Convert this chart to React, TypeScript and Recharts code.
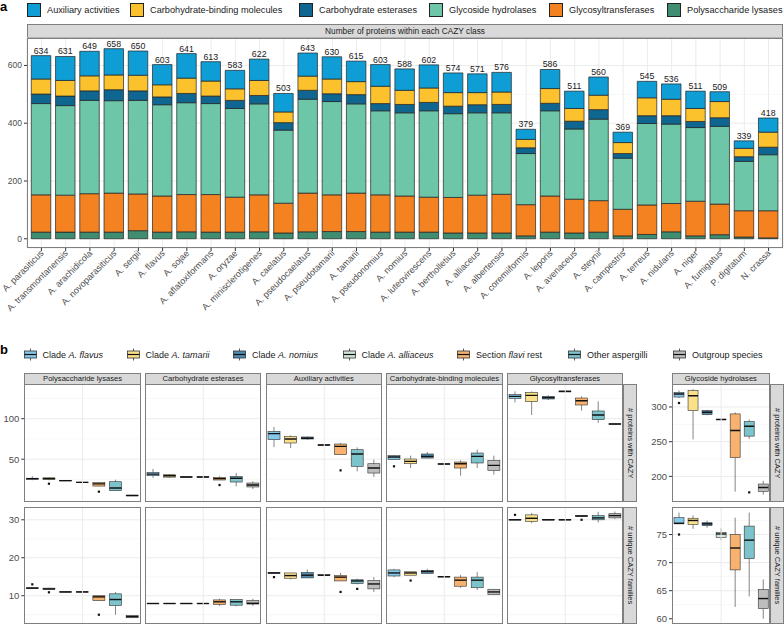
import React from 'react';
import { BarChart, Bar, XAxis, YAxis, CartesianGrid, LabelList, ReferenceLine } from 'recharts';

const FONT = '"Liberation Sans", Arial, Helvetica, sans-serif';
const INK = '#1a1a1a';
const AXIS_TEXT = '#4d4d4d';
const BORDER = '#7f7f7f';
const STRIP = '#d9d9d9';
const GRID = '#ebebeb';

// ---- panel a: number of proteins per CAZY class, per genome
const species = [
  'A. parasiticus', 'A. transmontanensis', 'A. arachidicola', 'A. novoparasiticus', 'A. sergii',
  'A. flavus', 'A. sojae', 'A. aflatoxiformans', 'A. oryzae', 'A. minisclerotigenes',
  'A. caelatus', 'A. pseudocaelatus', 'A. pseudotamarii', 'A. tamarii', 'A. pseudonomius',
  'A. nomius', 'A. luteovirescens', 'A. bertholletius', 'A. alliaceus', 'A. albertensis',
  'A. coremiiformis', 'A. leporis', 'A. avenaceus', 'A. steynii', 'A. campestris',
  'A. terreus', 'A. nidulans', 'A. niger', 'A. fumigatus', 'P. digitatum', 'N. crassa',
];
const totals = [634, 631, 649, 658, 650, 603, 641, 613, 583, 622, 503, 643, 630, 615, 603, 588, 602, 574, 571, 576, 379, 586, 511, 560, 369, 545, 536, 511, 509, 339, 418];
const polysaccharideLyases = [23, 23, 23, 23, 28, 23, 24, 23, 23, 24, 20, 24, 25, 25, 23, 23, 23, 20, 20, 20, 10, 23, 20, 23, 10, 15, 24, 10, 14, 6, 3];
const glycosyltransferases = [129, 128, 133, 135, 127, 125, 129, 130, 121, 128, 103, 134, 127, 133, 129, 125, 121, 123, 131, 134, 108, 125, 117, 109, 92, 102, 98, 120, 106, 91, 94];
const glycosideHydrolases = [316, 310, 323, 320, 324, 316, 318, 315, 307, 315, 253, 325, 323, 309, 291, 288, 299, 290, 285, 282, 177, 295, 243, 282, 177, 282, 275, 255, 269, 171, 194];
const carbohydrateEsterases = [33, 33, 33, 38, 33, 27, 32, 26, 28, 29, 26, 31, 27, 32, 25, 29, 29, 26, 28, 29, 20, 26, 27, 33, 16, 27, 29, 21, 30, 16, 26];
const carbohydrateBinding = [52, 54, 52, 51, 54, 42, 53, 52, 40, 52, 37, 49, 51, 45, 60, 49, 50, 47, 42, 43, 29, 51, 44, 50, 38, 62, 57, 45, 56, 29, 52];
const auxiliaryActivities = [81, 83, 85, 91, 84, 70, 85, 67, 64, 74, 64, 80, 77, 71, 75, 74, 80, 68, 65, 68, 35, 66, 60, 63, 36, 57, 53, 60, 34, 26, 49];

// legend order (top of stack first)
const classKeys = ['aa', 'cbm', 'ce', 'gh', 'gt', 'pl'];
const classLabels: Record<string, string> = {
  aa: 'Auxiliary activities',
  cbm: 'Carbohydrate-binding molecules',
  ce: 'Carbohydrate esterases',
  gh: 'Glycoside hydrolases',
  gt: 'Glycosyltransferases',
  pl: 'Polysaccharide lysases',
};
const classColors: Record<string, string> = {
  aa: '#0e9ed5', cbm: '#fcc22d', ce: '#0f6690', gh: '#6dc6a7', gt: '#f58220', pl: '#3f8e72',
};

const cazyRows = species.map((name, i) => ({
  name,
  total: totals[i],
  pl: polysaccharideLyases[i],
  gt: glycosyltransferases[i],
  gh: glycosideHydrolases[i],
  ce: carbohydrateEsterases[i],
  cbm: carbohydrateBinding[i],
  aa: auxiliaryActivities[i],
}));

// ---- panel b: per clade distributions, [low whisker, q1, median, q3, high whisker]
type BoxStat = [number, number, number, number, number];

const groups = ['flavus', 'tamarii', 'nomius', 'alliaceus', 'flaviRest', 'other', 'outgroup'];
const groupColors = ['#86c8e8', '#fbe08a', '#4f8cae', '#cfe6d8', '#f6b26e', '#7cc3cb', '#bdbdbd'];

const plProteins: BoxStat[] = [[24, 25, 26, 26.5, 29], [24, 25, 26, 27, 27.5], [23, 23.2, 23.5, 23.8, 24], [21, 21.2, 21.4, 21.6, 22], [16.4, 16.8, 19.5, 21, 21.4], [11, 11.1, 14.4, 22.2, 24.7], [4.6, 4.8, 5.2, 5.5, 5.7]];
const plProteinsOut = [[], [19.7], [], [], [9.9], [], []];
const ceProteins: BoxStat[] = [[27, 29.6, 31.6, 33.7, 37.9], [27, 27.8, 29.6, 30.8, 31.5], [27.5, 27.7, 28, 28.3, 28.5], [27.5, 27.7, 28, 28.3, 28.5], [24.3, 24.3, 26, 27.5, 29], [16.4, 21.8, 26.5, 28.8, 32.9], [13.2, 15.7, 18.1, 20.6, 22.6]];
const ceProteinsOut = [[], [], [], [], [18.1], [], []];
const aaProteins: BoxStat[] = [[65, 74.1, 81.5, 84.3, 89.7], [63.8, 70, 74.9, 78.2, 79.4], [74, 74.9, 75.9, 77.4, 78], [67, 67.2, 67.5, 67.8, 68], [55.6, 55.6, 65.8, 68.7, 70], [35, 41.2, 56.4, 61.7, 64.6], [28, 32.9, 39.1, 44.4, 49.4]];
const aaProteinsOut = [[], [], [], [], [36.2], [], []];
const cbmProteins: BoxStat[] = [[49, 49.4, 52.7, 54.3, 55], [39.1, 44.4, 47.3, 50.2, 54.3], [51, 51.4, 53.5, 56.4, 58.9], [43.7, 43.8, 44, 44.3, 44.5], [29.6, 39.1, 44.4, 46.5, 48.7], [39.1, 45.3, 53.5, 57.6, 61.7], [30.9, 36.2, 42.3, 48.5, 54.3]];
const cbmProteinsOut = [[41.2], [], [], [], [], [], []];
const gtProteins: BoxStat[] = [[120, 125, 127.5, 129.6, 133.7], [104.6, 121, 128.8, 132.5, 133.7], [123, 124.3, 126, 127.5, 129], [132.5, 133, 133.7, 134.2, 134.5], [109.9, 116.9, 122.2, 125.5, 127.5], [94.7, 98.8, 104.5, 109.5, 121.4], [93, 93.2, 93.4, 93.6, 93.8]];
const gtProteinsOut = [[], [], [], [], [], [], []];
const ghProteins: BoxStat[] = [[312.9, 314.3, 318.6, 320.9, 323.6], [253.3, 295.1, 316.1, 323.7, 325.7], [288, 289, 292.3, 294.7, 296], [281.5, 281.7, 282, 282.3, 282.5], [178, 227, 266.1, 290, 292.3], [254, 258, 272.3, 279, 281.9], [173.7, 178.5, 184.1, 189, 193.7]];
const ghProteinsOut = [[305.7], [], [], [], [], [177], []];

const plFamilies: BoxStat[] = [[11.8, 11.9, 12, 12.1, 12.2], [11.6, 11.7, 11.8, 12, 12.1], [10.9, 10.95, 11, 11.05, 11.1], [10.9, 10.95, 11, 11.05, 11.1], [8.7, 8.7, 9.7, 10, 10], [5, 7.4, 9, 10.5, 11], [4.1, 4.2, 4.5, 4.8, 4.9]];
const plFamiliesOut = [[13], [10.9], [], [], [5], [], []];
const ceFamilies: BoxStat[] = [[7.85, 7.9, 7.95, 8, 8.05], [7.85, 7.9, 7.95, 8, 8.05], [7.85, 7.9, 7.95, 8, 8.05], [7.85, 7.9, 7.95, 8, 8.05], [7.3, 7.7, 8.4, 8.9, 9.2], [7.2, 7.5, 8.4, 9, 9], [7.3, 7.8, 8, 8.8, 9.2]];
const ceFamiliesOut = [[], [], [], [], [], [], []];
const aaFamilies: BoxStat[] = [[15.8, 15.9, 16, 16.1, 16.2], [14.3, 14.6, 15.3, 16, 16], [14.7, 14.7, 15.4, 16.1, 16.9], [15.3, 15.3, 15.4, 15.6, 15.7], [13.9, 13.9, 14.9, 15.3, 16], [13, 13.2, 13.9, 14.2, 14.5], [11, 11.8, 13.1, 14, 14.9]];
const aaFamiliesOut = [[14.9], [], [], [], [11], [11.8], []];
const cbmFamilies: BoxStat[] = [[14.9, 15.2, 16, 16.8, 17.1], [15.4, 15.4, 16, 16.3, 16.3], [15.9, 15.9, 16.4, 16.6, 17.1], [14.9, 14.95, 15, 15.05, 15.1], [12.1, 12.5, 14.1, 14.9, 15.5], [11.5, 12.1, 14.1, 14.9, 16.2], [10.3, 10.3, 11, 11.7, 11.7]];
const cbmFamiliesOut = [[], [14], [], [], [], [], []];
const gtFamilies: BoxStat[] = [[29.9, 29.95, 30, 30.05, 30.1], [29.1, 29.6, 30.4, 31.3, 31.8], [29.9, 29.95, 30, 30.05, 30.1], [29.9, 29.95, 30, 30.05, 30.1], [30.9, 30.9, 31, 31.1, 31.1], [29.3, 30, 30.5, 31.1, 32.1], [30.2, 30.5, 31.1, 31.6, 32.2]];
const gtFamiliesOut = [[31.3], [], [], [], [30], [], []];
const ghFamilies: BoxStat[] = [[76.9, 76.9, 77, 78, 78.9], [76, 76.8, 77.5, 77.9, 78.4], [76.2, 76.6, 76.9, 77.1, 77.5], [74, 74.5, 75.1, 75.4, 76.1], [62.1, 68.7, 72.6, 75, 78], [64, 70.7, 74, 76.5, 78.9], [60, 61.8, 63.6, 65.2, 67]];
const ghFamiliesOut = [[75], [], [], [], [], [], []];

const smallClassTitles = ['Polysaccharide lysases', 'Carbohydrate esterases', 'Auxiliary activities', 'Carbohydrate-binding molecules', 'Glycosyltransferases'];
const proteinTicks = [0, 50, 100];
const proteinMinor = [25, 75, 125];
const familyTicks = [10, 20, 30];
const familyMinor = [5, 15, 25];
const ghProteinTicks = [200, 250, 300];
const ghProteinMinor = [175, 225, 275, 325];
const ghFamilyTicks = [60, 65, 70, 75];
const ghFamilyMinor = [62.5, 67.5, 72.5, 77.5];

function boxRows(stats: BoxStat[], outliers: number[][]) {
  return groups.map((group, i) => {
    const [lo, q1, med, q3, hi] = stats[i];
    const out = outliers[i];
    return {
      group, color: groupColors[i], lo, q1, med, q3, hi, out,
      range: [Math.min(lo, ...out), Math.max(hi, ...out)],
    };
  });
}

// draws one boxplot inside the pixel span recharts gives the [min, max] range bar
const BoxShape = (props: any) => {
  const { x, y, width, height, payload } = props;
  if (x == null || !payload) return null;
  const top = Math.min(y, y + height);
  const bottom = Math.max(y, y + height);
  const [vMin, vMax] = payload.range;
  const py = (v: number) => top + ((bottom - top) * (vMax - v)) / (vMax - vMin);
  const cx = x + width / 2;
  return (
    <g>
      <line x1={cx} x2={cx} y1={py(payload.hi)} y2={py(payload.q3)} stroke="#333" strokeWidth={0.6} />
      <line x1={cx} x2={cx} y1={py(payload.q1)} y2={py(payload.lo)} stroke="#333" strokeWidth={0.6} />
      <rect x={x} y={py(payload.q3)} width={width} height={Math.max(py(payload.q1) - py(payload.q3), 0.3)}
        fill={payload.color} stroke="#333" strokeWidth={0.6} />
      <line x1={x} x2={x + width} y1={py(payload.med)} y2={py(payload.med)} stroke="#111" strokeWidth={1.4} />
      {payload.out.map((v: number, k: number) => (
        <rect key={k} x={cx - 1.1} y={py(v) - 1.1} width={2.2} height={2.2} fill="#111" />
      ))}
    </g>
  );
};

const BoxFacet = ({ left, top, width, height, rows, domain, ticks, minor, barSize, axisWidth = 0 }: any) => (
  <div style={{ position: 'absolute', left: left - axisWidth, top, width: width + axisWidth, height }}>
    <BarChart width={width + axisWidth} height={height} data={rows} barSize={barSize}
      margin={{ top: 0, right: 0, bottom: 0, left: 0 }}>
      <CartesianGrid vertical={false} horizontalValues={minor} stroke="#f1f1f1" strokeWidth={0.6} />
      <CartesianGrid vertical={false} horizontalValues={ticks} stroke={GRID} strokeWidth={1} />
      <ReferenceLine x="alliaceus" stroke={GRID} strokeWidth={1} />
      <XAxis dataKey="group" hide />
      <YAxis hide={!axisWidth} width={axisWidth} type="number" domain={domain} ticks={ticks}
        allowDataOverflow axisLine={false} tickSize={3} tickMargin={2}
        tickLine={{ stroke: '#333' }} tick={{ fontSize: 9.5, fill: AXIS_TEXT, fontFamily: FONT }} />
      <Bar dataKey="range" shape={<BoxShape />} isAnimationActive={false} />
    </BarChart>
    <div style={{ position: 'absolute', left: axisWidth, top: 0, width, height, border: `1px solid ${BORDER}`, boxSizing: 'border-box' }} />
  </div>
);

const SpeciesTick = ({ x, y, payload }: any) => (
  <text x={x} y={y} dy={4} textAnchor="end" transform={`rotate(-45, ${x}, ${y})`}
    fontSize={9} fill={AXIS_TEXT} fontFamily={FONT}>
    {payload.value}
  </text>
);

const stripStyle = (left: number, top: number, width: number, height: number, fontSize: number): React.CSSProperties => ({
  position: 'absolute', left, top, width, height, background: STRIP, border: `1px solid ${BORDER}`,
  boxSizing: 'border-box', fontSize, color: INK, display: 'flex', alignItems: 'center', justifyContent: 'center',
  whiteSpace: 'nowrap', overflow: 'hidden',
});

const sideStrip = (left: number, top: number, height: number, text: string) => (
  <div style={{ ...stripStyle(left, top, 14, height, 7.5), writingMode: 'vertical-rl' }}>{text}</div>
);

const legendA = [27, 130, 299, 429, 549, 667];
const legendB = [23.5, 126.5, 233, 342.5, 457, 568, 673];
const legendBLabels = [
  <>Clade <i>A. flavus</i></>, <>Clade <i>A. tamarii</i></>, <>Clade <i>A. nomius</i></>,
  <>Clade <i>A. alliaceus</i></>, <>Section <i>flavi</i> rest</>, <>Other aspergilli</>, <>Outgroup species</>,
];

export default function App() {
  const facetLefts = [24.3, 144.9, 265.5, 386.1, 506.7];
  const facetW = 116.5;
  const row1Top = 384.3, row2Top = 506.5, rowH = 117.4;
  const proteinSets = [
    boxRows(plProteins, plProteinsOut), boxRows(ceProteins, ceProteinsOut), boxRows(aaProteins, aaProteinsOut),
    boxRows(cbmProteins, cbmProteinsOut), boxRows(gtProteins, gtProteinsOut),
  ];
  const familySets = [
    boxRows(plFamilies, plFamiliesOut), boxRows(ceFamilies, ceFamiliesOut), boxRows(aaFamilies, aaFamiliesOut),
    boxRows(cbmFamilies, cbmFamiliesOut), boxRows(gtFamilies, gtFamiliesOut),
  ];

  return (
    <div style={{ position: 'absolute', left: 0, top: 0, width: 784, height: 624, background: '#fff', fontFamily: FONT, overflow: 'hidden' }}>
      <div style={{ position: 'absolute', left: 0, top: 0, fontSize: 13, lineHeight: '13px', fontWeight: 'bold' }}>a</div>
      {classKeys.map((k, i) => (
        <div key={k} style={{ position: 'absolute', left: legendA[i], top: 3, height: 14, display: 'flex', alignItems: 'center', fontSize: 9.2, color: INK, whiteSpace: 'nowrap' }}>
          <span style={{ width: 14, height: 14, background: classColors[k], border: '1px solid #222', boxSizing: 'border-box', marginRight: 6 }} />
          <span>{classLabels[k]}</span>
        </div>
      ))}
      <div style={stripStyle(27, 24, 756, 14, 8.3)}>Number of proteins within each CAZY class</div>

      <div style={{ position: 'absolute', left: 0, top: 0 }}>
        <BarChart width={784} height={330} data={cazyRows} barSize={19.5}
          margin={{ top: 38, right: 1, left: 0, bottom: 0 }}>
          <CartesianGrid stroke={GRID} strokeWidth={1} />
          <CartesianGrid vertical={false} horizontalValues={[100, 300, 500]} stroke="#f1f1f1" strokeWidth={0.6} />
          <XAxis dataKey="name" interval={0} height={82} tick={<SpeciesTick />} tickSize={3} tickMargin={0}
            tickLine={{ stroke: '#333' }} axisLine={false} padding={{ left: 2.3, right: 2.3 }} />
          <YAxis width={27} type="number" domain={[-32, 695]} ticks={[0, 200, 400, 600]} allowDataOverflow
            axisLine={false} tickSize={3} tickMargin={2} tickLine={{ stroke: '#333' }}
            tick={{ fontSize: 8.5, fill: AXIS_TEXT, fontFamily: FONT }} />
          {[...classKeys].reverse().map((k) => (
            <Bar key={k} dataKey={k} stackId="cazy" fill={classColors[k]} stroke="#222" strokeWidth={0.7} isAnimationActive={false}>
              {k === 'aa' && <LabelList dataKey="total" position="top" offset={2} fontSize={8.8} fill={INK} fontFamily={FONT} />}
            </Bar>
          ))}
        </BarChart>
        <div style={{ position: 'absolute', left: 27, top: 38, width: 756, height: 210, border: `1px solid ${BORDER}`, boxSizing: 'border-box', pointerEvents: 'none' }} />
      </div>

      <div style={{ position: 'absolute', left: 0, top: 343, fontSize: 13, lineHeight: '13px', fontWeight: 'bold' }}>b</div>
      {legendBLabels.map((label, i) => (
        <div key={i} style={{ position: 'absolute', left: legendB[i], top: 347, height: 15, display: 'flex', alignItems: 'center', fontSize: 9, color: INK, whiteSpace: 'nowrap' }}>
          <svg width={13} height={13} style={{ marginRight: 6 }}>
            <line x1={6.5} x2={6.5} y1={0.5} y2={12.5} stroke="#333" strokeWidth={0.8} />
            <rect x={0.5} y={3} width={12} height={7} fill={groupColors[i]} stroke="#333" strokeWidth={0.8} />
            <line x1={0.5} x2={12.5} y1={6.5} y2={6.5} stroke="#111" strokeWidth={1.2} />
          </svg>
          <span style={{ whiteSpace: 'pre' }}>{label}</span>
        </div>
      ))}

      {smallClassTitles.map((t, c) => (
        <div key={t} style={stripStyle(facetLefts[c], 372.5, facetW, 12, 7.6)}>{t}</div>
      ))}
      <div style={stripStyle(671.7, 372.5, 98.3, 12, 7.6)}>Glycoside hydrolases</div>

      {proteinSets.map((rows, c) => (
        <BoxFacet key={'p' + c} left={facetLefts[c]} top={row1Top} width={facetW} height={rowH} rows={rows}
          domain={[-2.1, 142.8]} ticks={proteinTicks} minor={proteinMinor} barSize={12} axisWidth={c === 0 ? 24.3 : 0} />
      ))}
      {familySets.map((rows, c) => (
        <BoxFacet key={'f' + c} left={facetLefts[c]} top={row2Top} width={facetW} height={rowH} rows={rows}
          domain={[2.45, 33.37]} ticks={familyTicks} minor={familyMinor} barSize={12} axisWidth={c === 0 ? 24.3 : 0} />
      ))}
      <BoxFacet left={671.7} top={row1Top} width={98.3} height={rowH} rows={boxRows(ghProteins, ghProteinsOut)}
        domain={[164, 333.1]} ticks={ghProteinTicks} minor={ghProteinMinor} barSize={10} axisWidth={30} />
      <BoxFacet left={671.7} top={row2Top} width={98.3} height={rowH} rows={boxRows(ghFamilies, ghFamiliesOut)}
        domain={[59, 79.9]} ticks={ghFamilyTicks} minor={ghFamilyMinor} barSize={10} axisWidth={30} />

      {sideStrip(623.2, row1Top, rowH, '# proteins with CAZY')}
      {sideStrip(623.2, row2Top, rowH, '# unique CAZY families')}
      {sideStrip(770, row1Top, rowH, '# proteins with CAZY')}
      {sideStrip(770, row2Top, rowH, '# unique CAZY families')}
    </div>
  );
}
